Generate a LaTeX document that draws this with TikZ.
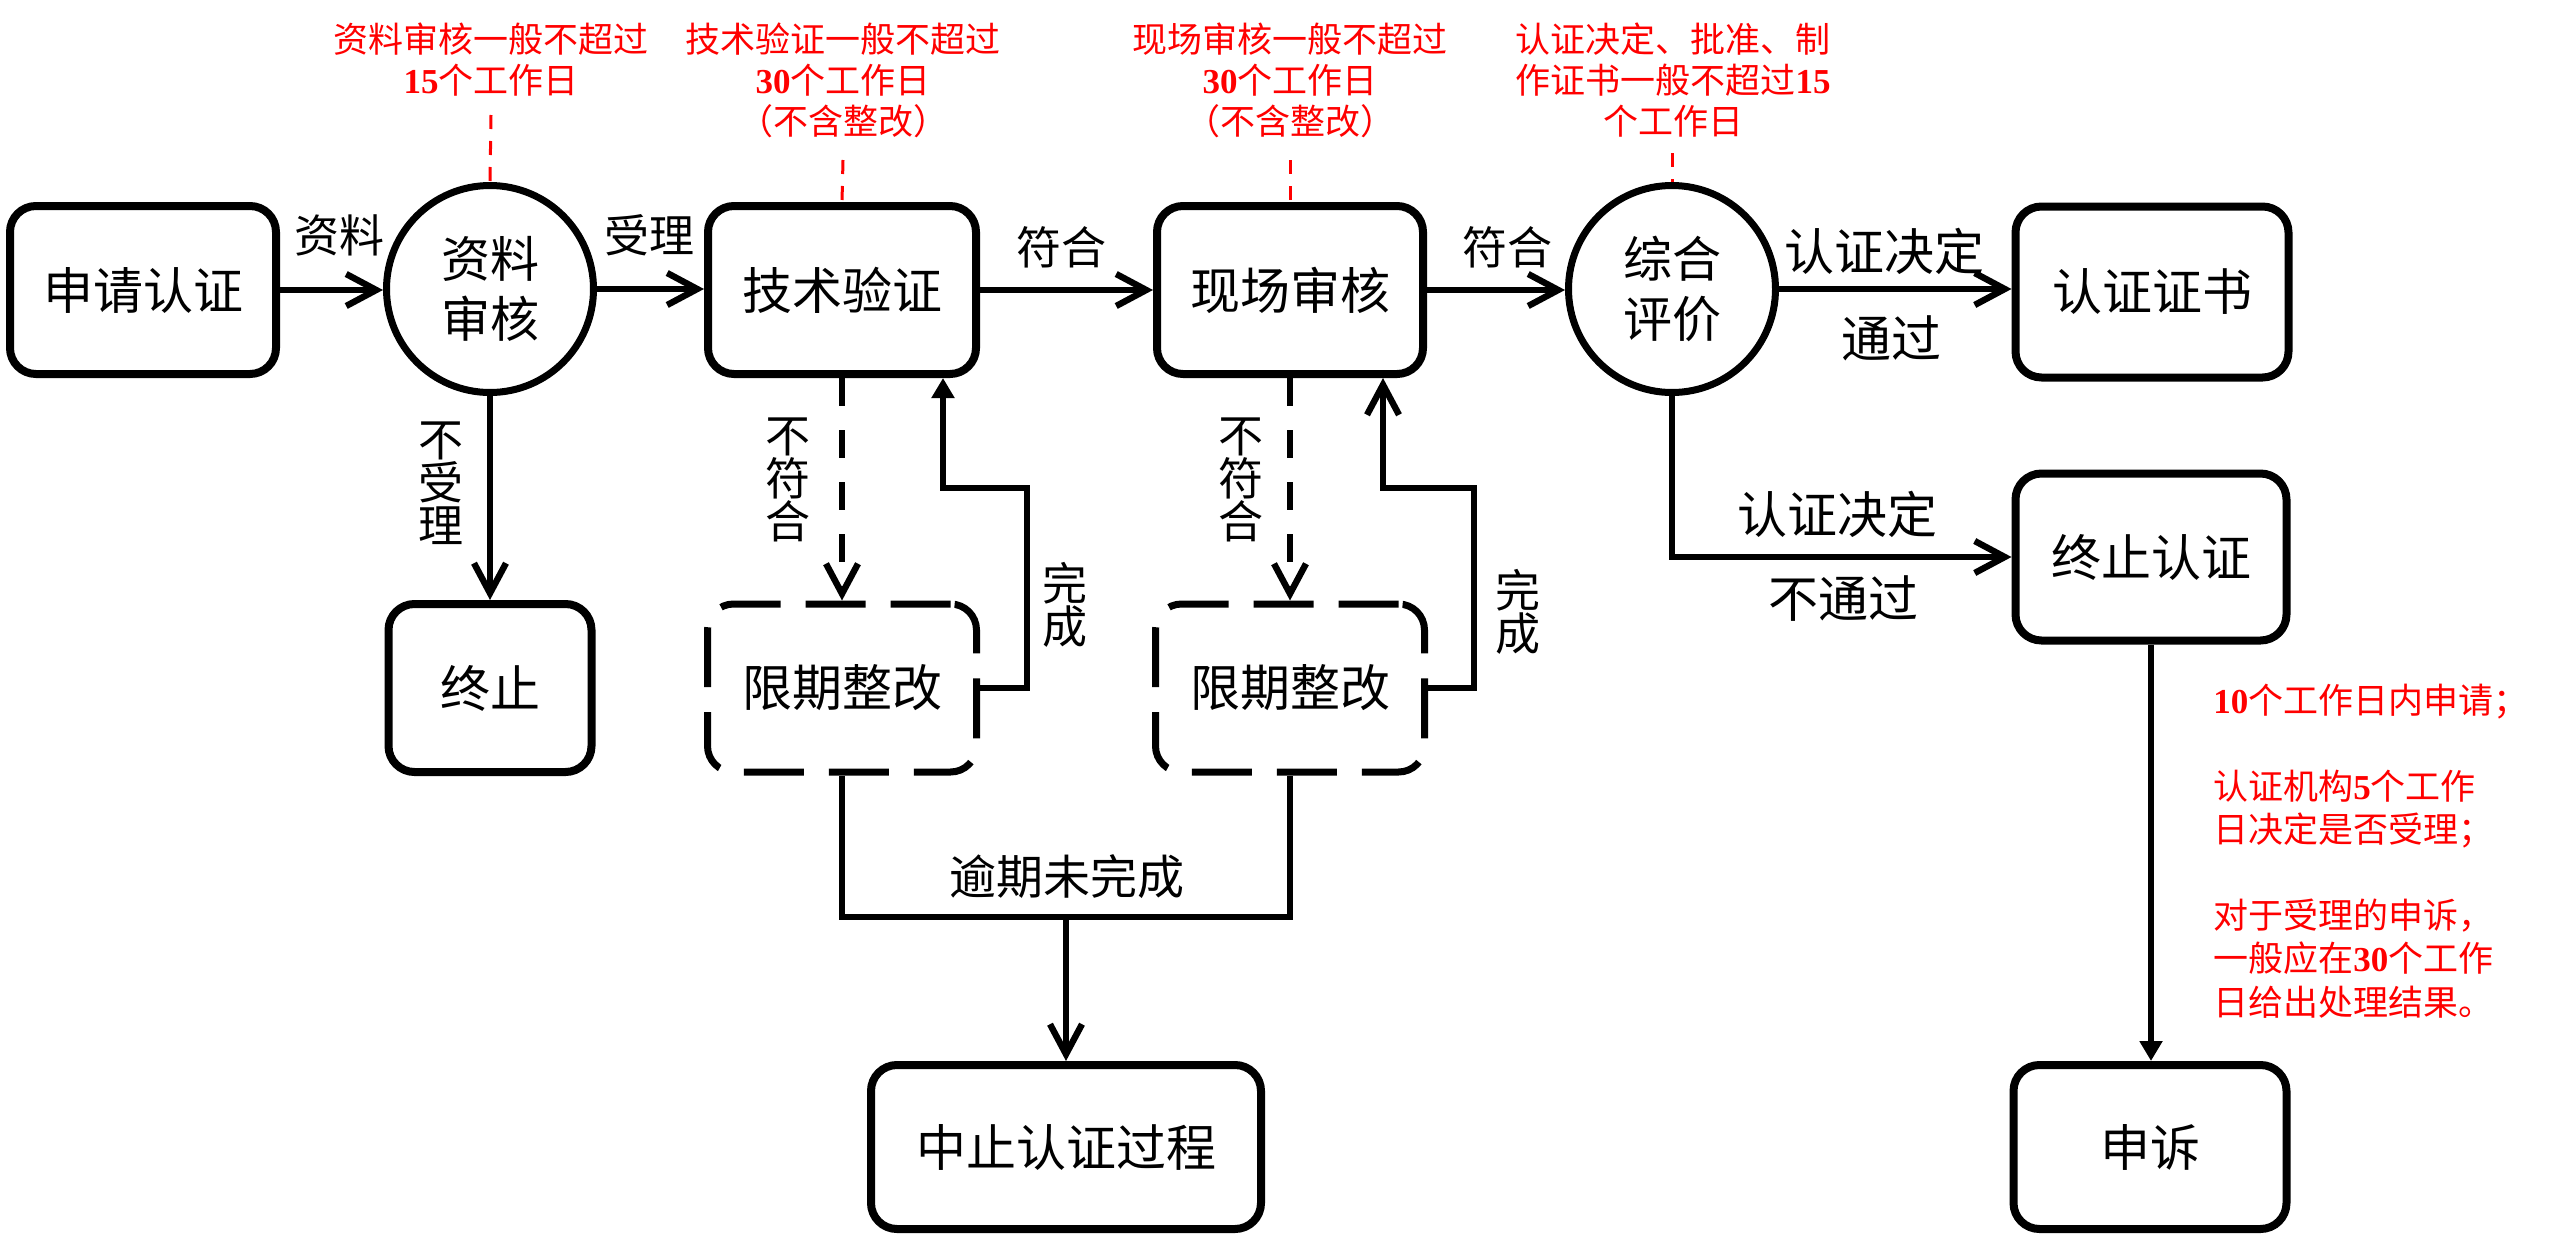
\documentclass[tikz,border=0pt]{standalone}
\usepackage{fontspec}
\setmainfont{Noto Sans CJK SC}
\newfontfamily\digf{Liberation Serif}
\usetikzlibrary{arrows.meta}
\newcommand{\bd}[1]{{\digf\bfseries #1}}
\begin{document}
\begin{tikzpicture}[x=0.5pt,y=-0.5pt,
  box/.style={draw, line width=4pt, rounded corners=13pt, minimum width=134pt, minimum height=84pt, inner sep=0pt, font=\fontsize{25}{30}\selectfont},
  dbox/.style={box, line width=3.5pt, dash pattern=on 30pt off 12.5pt},
  circ/.style={draw, circle, line width=3.5pt, minimum size=103.5pt, inner sep=0pt, align=center, font=\fontsize{24.5}{30}\selectfont},
  conn/.style={line width=3.2pt},
  arr/.style={conn, -{Straight Barb[length=15pt,width=16pt]}},
  farr/.style={conn, -{Triangle[length=10pt,width=11pt]}},
  dconn/.style={arr, dash pattern=on 14pt off 12pt},
  lab/.style={inner sep=0pt, font=\fontsize{22.5}{21.5}\selectfont, align=center},
  biglab/.style={inner sep=0pt, font=\fontsize{25}{30}\selectfont},
  note/.style={inner sep=0pt, text=red, font=\fontsize{17.5}{20.5}\selectfont, align=center},
  rnote/.style={note, align=left, font=\fontsize{17.5}{21.75}\selectfont},
  rdash/.style={draw=red, line width=1.5pt, dash pattern=on 7pt off 6pt}
]
\fill[white] (0,0) rectangle (2560,1237);
\useasboundingbox (0,0) rectangle (2560,1237);

% main nodes
\node[box, minimum width=133pt] (apply) at (143,290) {申请认证};
\node[circ] (c1) at (490,289) {资料\\审核};
\node[box] (tech) at (842,290) {技术验证};
\node[box, minimum width=133pt] (site) at (1290,290) {现场审核};
\node[circ] (c2) at (1672,289) {综合\\评价};
\node[box, minimum width=136.5pt, minimum height=85.5pt] (cert) at (2152,292) {认证证书};
\node[box, minimum width=135.5pt, minimum height=83.5pt] (stop2) at (2151,557) {终止认证};
\node[box, minimum width=136.5pt, minimum height=82pt] (appeal) at (2150,1147) {申诉};
\node[box, minimum width=101.5pt] (stop) at (490,688) {终止};
\node[dbox, minimum width=134.5pt] (fix1) at (842,688) {限期整改};
\node[dbox, minimum width=134.5pt] (fix2) at (1290,688) {限期整改};
\node[box, minimum width=195pt, minimum height=82pt] (abort) at (1066,1147) {中止认证过程};

% helper coordinates
\coordinate (fb1a) at (1027,488);
\coordinate (fb1b) at (943,488);
\coordinate (fb2a) at (1474,488);
\coordinate (fb2b) at (1383,488);
\coordinate (jm) at (1066,917);
\coordinate (r1) at (491,115);
\coordinate (r2) at (843,160);
\coordinate (r3) at (1290,160);
\coordinate (r4) at (1672,153);

% connectors
\draw[arr] (apply.east) -- (apply.east -| c1.west);
\draw[arr] (c1.east) -- (c1.east -| tech.west);
\draw[arr] (tech.east) -- (tech.east -| site.west);
\draw[arr] (site.east) -- (site.east -| c2.west);
\draw[arr] (c2.east) -- (c2.east -| cert.west);
\draw[arr] (c2.south) |- (stop2.west);
\draw[arr] (c1.south) -- (stop.north);
\draw[dconn] (tech.south) -- (fix1.north);
\draw[dconn] (site.south) -- (fix2.north);
\draw[farr] (fix1.east) -| (fb1a) -- (fb1b) -- (fb1b |- tech.south);
\draw[arr] (fix2.east) -| (fb2a) -- (fb2b) -- (fb2b |- site.south);
\draw[conn] (fix1.south) |- (jm) -| (fix2.south);
\draw[arr] (jm) -- (abort.north);
\draw[farr] (stop2.south) -- (stop2.south |- appeal.north);

% red dashed leaders
\draw[rdash] (r1) -- (c1.north);
\draw[rdash] (r2) -- (tech.north);
\draw[rdash] (r3) -- (site.north);
\draw[rdash] (r4) -- (c2.north);

% labels
\node[lab] (l1) at (339,235) {资料};
\node[lab] (l2) at (649,235) {受理};
\node[lab] (l3) at (1061,247) {符合};
\node[lab] (l4) at (1507,247) {符合};
\node[biglab] (l5) at (1884,251) {认证决定};
\node[biglab] (l6) at (1891,338) {通过};
\node[biglab] (l7) at (1837,514) {认证决定};
\node[biglab] (l8) at (1843,599) {不通过};
\node[lab, font=\fontsize{23.5}{28}\selectfont] (l9) at (1067,877) {逾期未完成};
\node[lab] (l10) at (441,483) {不\\受\\理};
\node[lab] (l11) at (788,480) {不\\符\\合};
\node[lab] (l12) at (1241,480) {不\\符\\合};
\node[lab] (l13) at (1065,605) {完\\成};
\node[lab] (l14) at (1518,612) {完\\成};

% red notes
\node[note, anchor=north] (n1) at (491,22) {资料审核一般不超过\\\bd{15}个工作日};
\node[note, anchor=north] (n2) at (843,22) {技术验证一般不超过\\\bd{30}个工作日\\（不含整改）};
\node[note, anchor=north] (n3) at (1290,22) {现场审核一般不超过\\\bd{30}个工作日\\（不含整改）};
\node[note, anchor=north] (n4) at (1673,22) {认证决定、批准、制\\作证书一般不超过\bd{15}\\个工作日};
\node[rnote, anchor=north west] (n5) at (2213,684) {\bd{10}个工作日内申请；\\[21pt]认证机构\bd{5}个工作\\日决定是否受理；\\[21pt]对于受理的申诉，\\一般应在\bd{30}个工作\\日给出处理结果。};
\end{tikzpicture}
\end{document}
